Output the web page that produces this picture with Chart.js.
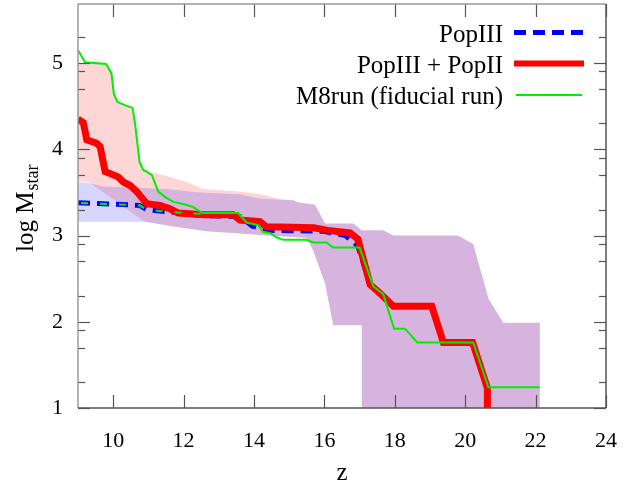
<!DOCTYPE html>
<html>
<head>
<meta charset="utf-8">
<script src="https://cdn.jsdelivr.net/npm/chart.js@4.4.1/dist/chart.umd.min.js"></script>
<style>
  html, body { margin: 0; padding: 0; background: #fff; }
  #wrap { width: 642px; height: 486px; }
</style>
</head>
<body>
<div id="wrap"><canvas id="c" width="642" height="486"></canvas></div>
<script>
// ── data ───────────────────────────────────────────────────
const xTicks = [10, 12, 14, 16, 18, 20, 22, 24];
const yTicks = [1, 2, 3, 4, 5];
const yMinor = [1.301, 1.699, 1.903, 2.301, 2.699, 2.903, 3.301, 3.699, 3.903, 4.301, 4.699, 4.903, 5.301];

// PopIII (blue dashed)
const popIIIZ = [9.0, 10.75, 10.95, 11.7, 12.6, 13.6, 13.95, 14.2, 14.45, 15.97, 16.6, 16.95, 17.3, 17.58, 17.96, 19.05, 19.38, 20.21, 20.63, 20.63];
const popIIIY = [3.38, 3.35, 3.30, 3.27, 3.23, 3.22, 3.11, 3.09, 3.06, 3.05, 3.00, 2.88, 2.43, 2.33, 2.18, 2.18, 1.76, 1.76, 1.23, 1.00];

// PopIII + PopII (red thick)
const popIIZ = [9.0, 9.15, 9.25, 9.53, 9.63, 9.77, 9.91, 10.14, 10.29, 10.48, 10.67, 10.95, 11.33, 11.61, 11.85, 12.56, 13.41, 13.6, 14.17, 14.36, 14.74, 15.7, 16.1, 16.73, 16.95, 17.3, 17.58, 17.96, 19.05, 19.38, 20.21, 20.63, 20.63];
const popIIY = [4.35, 4.31, 4.11, 4.07, 4.03, 3.74, 3.72, 3.68, 3.62, 3.58, 3.51, 3.37, 3.35, 3.31, 3.26, 3.24, 3.24, 3.18, 3.16, 3.10, 3.10, 3.09, 3.06, 3.03, 2.96, 2.43, 2.33, 2.18, 2.18, 1.76, 1.76, 1.23, 0.98];

// M8run fiducial (green)
const m8Z = [9.0, 9.2, 9.8, 9.95, 10.02, 10.12, 10.35, 10.55, 10.62, 10.75, 10.85, 10.95, 11.1, 11.28, 11.5, 11.71, 12.04, 12.28, 12.53, 13.55, 13.79, 14.12, 14.26, 14.45, 14.64, 14.83, 15.49, 15.68, 16.06, 16.25, 17.0, 17.39, 17.67, 17.98, 18.29, 18.64, 20.23, 20.66, 22.12];
const m8Y = [5.15, 5.01, 4.99, 4.88, 4.64, 4.55, 4.51, 4.48, 4.30, 3.85, 3.76, 3.74, 3.70, 3.51, 3.44, 3.39, 3.36, 3.33, 3.26, 3.26, 3.15, 3.12, 3.04, 3.03, 2.98, 2.95, 2.95, 2.92, 2.92, 2.86, 2.86, 2.41, 2.32, 1.92, 1.92, 1.76, 1.76, 1.24, 1.24];

// M8run PopIII part (green dashed on top of the blue one)
const m8p3Z = [9.0, 10.75, 10.95, 11.7, 12.53];
const m8p3Y = [3.38, 3.35, 3.30, 3.27, 3.25];

// range bands
const bandTopZ = [9.0, 9.3, 9.72, 10.86, 11.52, 12.47, 13.6, 14.17, 15.11, 15.3, 15.73, 16.02, 16.82, 17.06, 17.67, 17.96, 19.8, 20.23, 20.66, 21.08, 22.12];
const bandTopY = [3.62, 3.61, 3.57, 3.55, 3.54, 3.50, 3.48, 3.43, 3.41, 3.38, 3.36, 3.14, 3.14, 3.06, 3.06, 3.00, 3.00, 2.90, 2.27, 1.99, 1.99];
const bandBotZ = [10.9, 11.8, 12.65, 13.7, 14.36, 15.5, 15.68, 16.02, 16.25, 17.06, 17.06, 22.12];
const bandBotY = [3.16, 3.10, 3.05, 3.02, 3.00, 2.97, 2.83, 2.44, 1.96, 1.96, 1.00, 1.00];
const blueBotLeftZ = [9.0];
const blueBotLeftY = [3.16];
const pinkBotLeftZ = [9.0, 9.3];
const pinkBotLeftY = [3.63, 3.62];
const pinkTopZ = [9.0, 9.2, 9.8, 9.95, 10.02, 10.12, 10.35, 10.55, 10.62, 10.75, 10.85, 10.95, 11.23, 11.61, 12.08, 12.56, 13.6, 14.3, 14.74, 15.11];
const pinkTopY = [5.0, 5.0, 4.98, 4.87, 4.63, 4.54, 4.50, 4.47, 4.30, 3.85, 3.76, 3.74, 3.72, 3.68, 3.62, 3.54, 3.51, 3.47, 3.42, 3.41];

const legendItems = ["PopIII", "PopIII + PopII", "M8run (fiducial run)"];

// ── helpers ────────────────────────────────────────────────
const pts = (zs, ys) => zs.map((z, i) => ({ x: z, y: ys[i] }));
const polygon = (top, bottom) => top.concat(bottom.slice().reverse());

const blueTop = pts(bandTopZ, bandTopY);
const blueBot = pts(blueBotLeftZ.concat(bandBotZ), blueBotLeftY.concat(bandBotY));
const pinkTop = pts(pinkTopZ, pinkTopY).concat(blueTop.filter(p => p.x > pinkTopZ[pinkTopZ.length - 1]));
const pinkBot = pts(pinkBotLeftZ.concat(bandBotZ), pinkBotLeftY.concat(bandBotY));

const SERIF = "'Liberation Serif', 'DejaVu Serif', serif";

const line = (ctx, x1, y1, x2, y2) => {
  ctx.beginPath(); ctx.moveTo(x1, y1); ctx.lineTo(x2, y2); ctx.stroke();
};

// frame, inward ticks, legend, axis titles
const decorPlugin = {
  id: "decor",
  afterDatasetsDraw(chart) {
    const { ctx, chartArea: a, scales: { x, y } } = chart;
    ctx.save();
    ctx.strokeStyle = "#555";
    ctx.lineWidth = 1.2;
    xTicks.forEach(v => {
      const px = Math.round(x.getPixelForValue(v)) + 0.5;
      line(ctx, px, a.bottom, px, a.bottom - 13);
      line(ctx, px, a.top, px, a.top + 13);
    });
    yTicks.forEach(v => {
      const py = Math.round(y.getPixelForValue(v)) + 0.5;
      line(ctx, a.left, py, a.left + 12, py);
      line(ctx, a.right, py, a.right - 12, py);
    });
    yMinor.forEach(v => {
      const py = Math.round(y.getPixelForValue(v)) + 0.5;
      line(ctx, a.left, py, a.left + 7, py);
      line(ctx, a.right, py, a.right - 7, py);
    });
    // frame
    ctx.lineWidth = 1.5;
    ctx.strokeStyle = "#999";
    line(ctx, a.left, a.top, a.right, a.top);
    line(ctx, a.left, a.top, a.left, a.bottom);
    ctx.strokeStyle = "#555";
    line(ctx, a.left, a.bottom, a.right, a.bottom);
    line(ctx, a.right, a.top, a.right, a.bottom);

    // legend
    ctx.fillStyle = "#000";
    ctx.font = "25px " + SERIF;
    ctx.textAlign = "right";
    ctx.textBaseline = "alphabetic";
    const rows = [32.5, 63.5, 95];
    legendItems.forEach((t, i) => ctx.fillText(t, 503, rows[i] + 9));
    ctx.lineCap = "butt";
    ctx.strokeStyle = "#0000ff"; ctx.lineWidth = 5; ctx.setLineDash([12, 7]);
    line(ctx, 514, rows[0], 584, rows[0]);
    ctx.setLineDash([]);
    ctx.strokeStyle = "#ff0000"; ctx.lineWidth = 6;
    line(ctx, 514, rows[1], 584, rows[1]);
    ctx.strokeStyle = "#00ee00"; ctx.lineWidth = 2;
    line(ctx, 516, rows[2], 582, rows[2]);

    // axis titles
    ctx.textAlign = "center";
    ctx.font = "25px " + SERIF;
    ctx.fillText("z", (a.left + a.right) / 2, 480);
    ctx.save();
    ctx.translate(33, 252);
    ctx.rotate(-Math.PI / 2);
    ctx.textAlign = "left";
    ctx.fillText("log M", 0, 0);
    const w = ctx.measureText("log M").width;
    ctx.font = "18px " + SERIF;
    ctx.fillText("star", w + 1, 5);
    ctx.restore();
    ctx.restore();
  }
};

new Chart(document.getElementById("c").getContext("2d"), {
  type: "line",
  data: {
    datasets: [
      {
        label: "M8run (fiducial run)",
        data: pts(m8Z, m8Y),
        borderColor: "#00ee00",
        borderWidth: 2,
        order: 0,
      },
      {
        label: "M8run PopIII",
        data: pts(m8p3Z, m8p3Y),
        borderColor: "#00ee00",
        borderWidth: 2,
        borderDash: [7, 12],
        borderDashOffset: -3,
        order: 1,
      },
      {
        label: "PopIII + PopII",
        data: pts(popIIZ, popIIY),
        borderColor: "#ff0000",
        borderWidth: 7,
        order: 2,
      },
      {
        label: "PopIII",
        data: pts(popIIIZ, popIIIY),
        borderColor: "#0000ff",
        borderWidth: 5,
        borderDash: [12, 7],
        order: 3,
      },
      {
        label: "PopIII range",
        data: polygon(blueTop, blueBot),
        borderWidth: 0,
        borderColor: "rgba(0,0,0,0)",
        backgroundColor: "rgba(0, 0, 255, 0.16)",
        fill: "shape",
        order: 4,
      },
      {
        label: "PopIII + PopII range",
        data: polygon(pinkTop, pinkBot),
        borderWidth: 0,
        borderColor: "rgba(0,0,0,0)",
        backgroundColor: "rgba(255, 0, 0, 0.16)",
        fill: "shape",
        order: 5,
      },
    ],
  },
  options: {
    responsive: false,
    animation: false,
    devicePixelRatio: 1,
    elements: { point: { radius: 0 }, line: { tension: 0, borderJoinStyle: "miter" } },
    layout: { padding: { left: 0, right: 36, top: 4, bottom: 0 } },
    plugins: { legend: { display: false }, tooltip: { enabled: false } },
    scales: {
      x: {
        type: "linear",
        min: 9, max: 24,
        afterBuildTicks: s => { s.ticks = xTicks.map(v => ({ value: v })); },
        afterFit: s => { s.height = 78; s.paddingLeft = 0; s.paddingRight = 0; },
        grid: { display: false, drawTicks: false },
        border: { display: false },
        ticks: { padding: 20, color: "#000", font: { family: SERIF, size: 22 }, maxRotation: 0 },
      },
      y: {
        type: "linear",
        min: 1, max: 5.685,
        afterBuildTicks: s => { s.ticks = yTicks.map(v => ({ value: v })); },
        afterFit: s => { s.width = 78; s.paddingTop = 0; s.paddingBottom = 0; },
        grid: { display: false, drawTicks: false },
        border: { display: false },
        ticks: { padding: 15, color: "#000", font: { family: SERIF, size: 22 } },
      },
    },
  },
  plugins: [decorPlugin],
});
</script>
</body>
</html>
